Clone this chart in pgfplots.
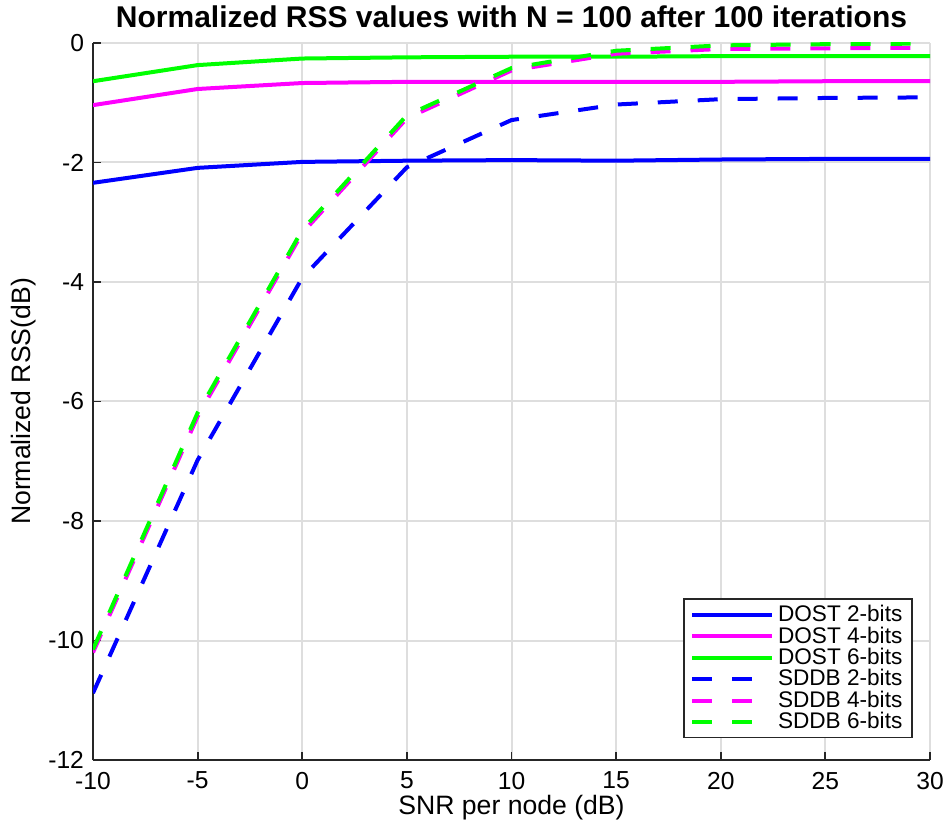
\documentclass[border=0pt]{standalone}
\usepackage{fontspec}
\setmainfont{Liberation Sans}
\usepackage{pgfplots}
\pgfplotsset{compat=1.18}
\definecolor{gridgray}{gray}{0.87}
\definecolor{axgray}{gray}{0.15}
\definecolor{cblue}{rgb}{0,0,1}
\definecolor{cmag}{rgb}{1,0,1}
\definecolor{cgreen}{rgb}{0,1,0}
\begin{document}
\begin{tikzpicture}
\begin{axis}[
  scale only axis,
  width=418.5pt, height=358.5pt,
  xmin=-10, xmax=30, ymin=-12, ymax=0,
  xtick={-10,-5,...,30}, ytick={-12,-10,...,0},
  /pgf/number format/assume math mode=true,
  ticklabel style={font=\fontsize{12.3}{14}\selectfont},
  xticklabel style={yshift=-2.5pt},
  yticklabel style={xshift=-1pt},
  grid=major,
  major grid style={gridgray, line width=1pt},
  axis x line*=bottom, axis y line*=left,
  axis line style={axgray, line width=0.9pt, -},
  tick style={axgray, line width=0.9pt},
  tick align=inside,
  major tick length=4pt,
  title={\bfseries Normalized RSS values with N = 100 after 100 iterations},
  title style={font=\fontsize{15}{17}\selectfont, at={(axis description cs:0.5,1)}, anchor=center, yshift=7pt},
  xlabel={SNR per node (dB)},
  ylabel={Normalized RSS(dB)},
  label style={font=\fontsize{13.3}{15}\selectfont},
  xlabel style={at={(axis description cs:0.5,0)}, anchor=center, yshift=-23.8pt},
  ylabel style={at={(axis description cs:0,0.5)}, anchor=center, yshift=34.5pt},
  legend style={at={(0.98,0.03)}, anchor=south east, draw=axgray, line width=0.9pt,
    font=\fontsize{11.3}{12}\selectfont, inner xsep=3pt, inner ysep=1pt,
    row sep=-3pt, cells={anchor=west}},
  legend cell align=left,
  legend image code/.code={\draw[#1] (0pt,0pt) -- (40pt,0pt);},
  every axis plot/.append style={line width=2pt},
]
\addplot[cblue] coordinates {(-10,-2.34) (-5,-2.09) (0,-1.99) (5,-1.97) (10,-1.96) (15,-1.97) (20,-1.95) (25,-1.94) (30,-1.94)};
\addplot[cmag] coordinates {(-10,-1.04) (-5,-0.77) (0,-0.67) (5,-0.65) (10,-0.65) (15,-0.65) (20,-0.65) (25,-0.64) (30,-0.64)};
\addplot[cgreen] coordinates {(-10,-0.64) (-5,-0.37) (0,-0.26) (5,-0.24) (10,-0.23) (15,-0.23) (20,-0.22) (25,-0.22) (30,-0.22)};
\addplot[cblue, dash pattern=on 10pt off 10pt] coordinates {(-10,-10.88) (-5,-6.98) (0,-3.93) (5,-2.08) (10,-1.29) (15,-1.03) (20,-0.94) (25,-0.92) (30,-0.91)};
\addplot[cmag, dash pattern=on 10pt off 10pt] coordinates {(-10,-10.2) (-5,-6.25) (0,-3.18) (5,-1.26) (10,-0.46) (15,-0.18) (20,-0.10) (25,-0.09) (30,-0.08)};
\addplot[cgreen, dash pattern=on 10pt off 10pt] coordinates {(-10,-10.15) (-5,-6.19) (0,-3.13) (5,-1.21) (10,-0.42) (15,-0.13) (20,-0.04) (25,-0.02) (30,-0.01)};
\legend{DOST 2-bits, DOST 4-bits, DOST 6-bits, SDDB 2-bits, SDDB 4-bits, SDDB 6-bits}
\end{axis}
\pgfresetboundingbox
\path[use as bounding box] ([xshift=-46.5pt,yshift=-31.5pt]current axis.south west) rectangle ([xshift=7.5pt,yshift=21.5pt]current axis.north east);
\end{tikzpicture}
\end{document}
